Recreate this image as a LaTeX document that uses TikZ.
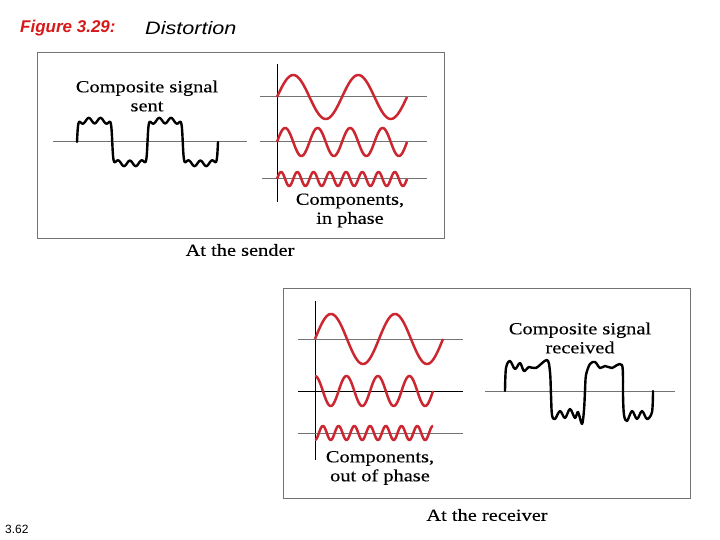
\documentclass[tikz,border=0pt]{standalone}
\usepackage{fontspec}
\setmainfont{Liberation Serif}
\newfontfamily\figsans{Liberation Sans}
\newfontfamily\figsanswide[FakeStretch=1.2]{Liberation Sans}
\newfontfamily\figserif[FakeStretch=1.2,FakeBold=0.3]{Liberation Serif}
\usetikzlibrary{calc}
\definecolor{sigred}{RGB}{204,38,48}
\definecolor{titlered}{RGB}{215,25,25}
\definecolor{rulegray}{RGB}{115,115,115}

\tikzset{
  frame/.style={draw=rulegray,line width=0.9pt},
  axisline/.style={draw=rulegray,line width=1pt},
  vaxis/.style={draw=black,line width=1pt},
  wave/.style={draw=sigred,line width=2.5pt,line join=round},
  comp/.style={draw=black,line width=2.4pt,line join=round,line cap=round},
  lbl/.style={font={\figserif\fontsize{17}{19}\selectfont},align=center,inner sep=0pt},
  declare function={sq(\t)=sin(\t)/sqrt(sin(\t)*sin(\t)+0.01);}
}

\begin{document}
\begin{tikzpicture}[x=1pt,y=-1pt]
\useasboundingbox[fill=white] (0,0) rectangle (720,540);
% title and slide number
\node[anchor=west,inner sep=0pt,font={\figsans\bfseries\itshape\fontsize{17}{20}\selectfont},text=titlered] (title) at (20,28) {Figure 3.29:};
\node[anchor=west,inner sep=0pt,font={\figsanswide\itshape\fontsize{18}{20}\selectfont}] (subject) at (145,28) {Distortion};
\node[anchor=west,inner sep=0pt,font={\figsans\fontsize{12}{14}\selectfont}] (slideno) at (5,529) {3.62};

% sender panel
\draw[frame] (37,52) rectangle (444,238);
\node[lbl] (sentlbl) at (147,96) {Composite signal\\sent};
\draw[axisline] (53,142) -- (247,142);
\draw[comp] plot[domain=0:141,samples=400] ({77+\x},{142-(21.5+2.75*cos(\x/70.5*2160))*sq(\x/70.5*360)});
\draw[vaxis] (277,64) -- (277,202);
\foreach \yy/\amp/\cyc/\xs in {97/22/2/260,142/14/4/260,179/7/8/262}{
  \draw[axisline] (\xs,\yy) -- (427,\yy);
  \draw[wave] plot[domain=0:130,samples=240] ({277+\x},{\yy-\amp*sin(\x/130*\cyc*360)});
}
\node[lbl] (inphase) at (350,210.5) {Components,\\in phase};
\node[lbl] (sender) at (240,250) {At the sender};

% receiver panel
\draw[frame] (283,288) rectangle (690,498);
\draw[vaxis] (315,301) -- (315,460);
\draw[axisline] (298,339) -- (463,339);
\draw[axisline,draw=black] (298,391) -- (463,391);
\draw[axisline] (298,433) -- (463,433);
\draw[wave] plot[domain=0:128,samples=200] ({315+\x},{339-25*sin(\x/128*720)});
\draw[wave] plot[domain=0:118,samples=200] ({315+\x},{391-15*sin(90+\x/118*1350)});
\draw[wave] plot[domain=0:118,samples=300] ({315+\x},{433-7*sin(-90+\x/118*2700)});
\node[lbl] (outphase) at (380,468) {Components,\\out of phase};
\node[lbl] (rcvdlbl) at (580,338) {Composite signal\\received};
\draw[axisline] (485,391) -- (675,391);
\draw[comp] plot[smooth,tension=0.55] coordinates {
  (505,391) (506,368) (510,361) (515,369) (520,363) (524,371) (529,367)
  (536,368) (547,360) (550,372) (551,395) (552,415) (555,419) (560,411)
  (565,418) (570,409) (575,418) (578,412) (582,424) (584,410) (585,391)
  (586,375) (590,364) (595,362) (600,368) (605,366) (612,368) (617,365)
  (622,365) (623,378) (623,395) (624,415) (627,421) (632,411) (637,419)
  (642,411) (647,419) (652,412) (653,391)};
\node[lbl] (receiver) at (487,515) {At the receiver};
\end{tikzpicture}
\end{document}
